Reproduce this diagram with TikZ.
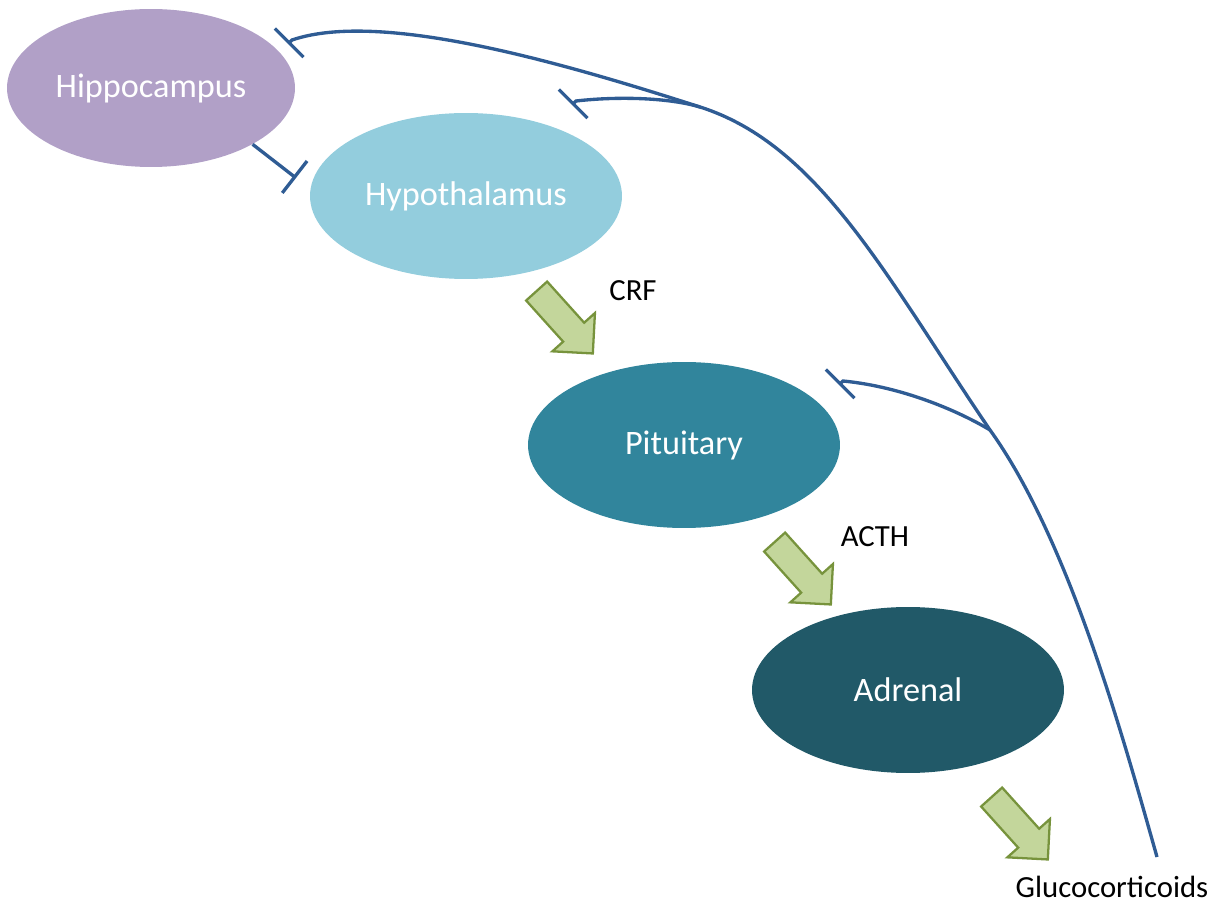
\documentclass[tikz,border=0pt]{standalone}
\usepackage{fontspec}
\setmainfont{Carlito}
\usepackage{tikz}
\usetikzlibrary{shapes.geometric}
\usetikzlibrary{shapes.arrows}
\usetikzlibrary{arrows.meta}
\definecolor{hippoPurple}{HTML}{B1A0C7}
\definecolor{hypoBlue}{HTML}{93CDDD}
\definecolor{pitTeal}{HTML}{31859C}
\definecolor{adrDark}{HTML}{215968}
\definecolor{fbBlue}{HTML}{2F5C94}
\definecolor{arrowFill}{HTML}{C3D69B}
\definecolor{arrowEdge}{HTML}{77933C}
\tikzset{
organ/.style={ % Sets the properties for each gland
ellipse,
inner sep=0pt,
text=white,
font=\fontsize{19.5}{23}\selectfont},
signal/.style={ % Green block arrows down the axis
single arrow,
draw=arrowEdge,
fill=arrowFill,
line width=1.3pt,
inner xsep=0pt, inner ysep=0.26cm,
minimum height=1.68cm,
single arrow head extend=0.29cm,
rotate=-48},
hormone/.style={font=\fontsize{17.5}{20}\selectfont}, % Hormone names
feedback/.style={ % Inhibitory feedback lines
draw=fbBlue,
line width=1.9pt,
-{Bar[width=23pt]}}}

\begin{document}
\begin{tikzpicture}[x=0.02cm, y=-0.02cm]
\useasboundingbox (0,0) rectangle (1225,905);
\node[organ, fill=hippoPurple, minimum width=5.76cm, minimum height=3.16cm] (hippo) at (151,88) {Hippocampus};
\node[organ, fill=hypoBlue, minimum width=6.24cm, minimum height=3.32cm] (hypo) at (466,196) {Hypothalamus};
\node[organ, fill=pitTeal, minimum width=6.24cm, minimum height=3.32cm] (pit) at (684,445) {Pituitary};
\node[organ, fill=adrDark, minimum width=6.24cm, minimum height=3.32cm] (adr) at (908,690) {Adrenal};
\node[signal] (crfArrow) at (560,317) {};
\node[signal] (acthArrow) at (798,568) {};
\node[signal] (gcArrow) at (1015,823) {};
\node[hormone] (crf) at (633,291) {CRF};
\node[hormone] (acth) at (875,537) {ACTH};
\node[hormone] (gc) at (1112,887) {Glucocorticoids};
\coordinate (gcEnd) at (1157,857);
\coordinate (fork1) at (990,430);
\coordinate (fork2) at (700,107);
\coordinate (hippoIn) at (292,40);
\coordinate (hippoBar) at (288,44);
\coordinate (hypoIn) at (576,101);
\coordinate (hypoBar) at (572,105);
\coordinate (pitIn) at (843,381);
\coordinate (pitBar) at (839,385);
\coordinate (hypoBarL) at (296,178);
\draw[feedback] (gcEnd) .. controls (1123,737) and (1069,540) .. (fork1)
  .. controls (888,280) and (820,145) .. (fork2)
  .. controls (560,62) and (380,10) .. (hippoIn) -- (hippoBar);
\draw[feedback] (fork2) .. controls (670,98) and (620,96) .. (hypoIn) -- (hypoBar);
\draw[feedback] (fork1) .. controls (962,413) and (905,387) .. (pitIn) -- (pitBar);
\draw[feedback] (hippo.-29.4) -- (hypoBarL);
\end{tikzpicture}
\end{document}
